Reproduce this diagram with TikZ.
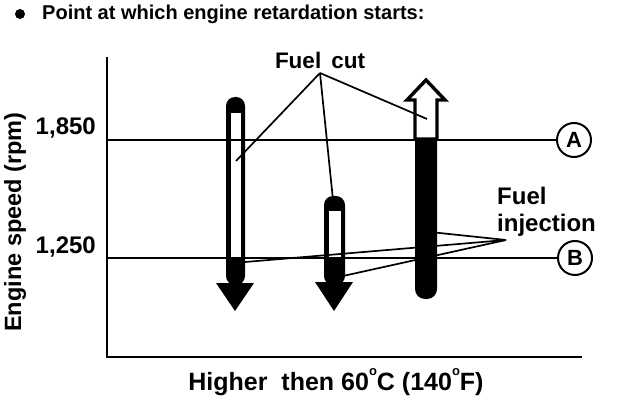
\documentclass[tikz,border=0pt]{standalone}
\usepackage{fontspec}
\setmainfont{Liberation Sans}
\usetikzlibrary{positioning,calc}

\newcommand{\degsup}{\raisebox{1.1ex}{\fontsize{13}{13}\selectfont o}}

\begin{document}
\begin{tikzpicture}[x=1pt,y=-1pt,
  txt/.style={font=\fontsize{#1}{#1}\selectfont\bfseries,inner sep=0pt},
  ax/.style={line width=2.4pt},
  lead/.style={line width=1.7pt},
  ring/.style={circle,draw,line width=2pt,minimum size=34pt,inner sep=0pt,font=\fontsize{22}{22}\selectfont\bfseries}]
\useasboundingbox (0,0) rectangle (624,414);
% title
\fill (20,14) circle (5);
\node[txt=20,anchor=west] (title) at (42,14) {Point at which engine retardation starts:};
% axes
\coordinate (top) at (107,57);
\coordinate (orig) at (107,357);
\coordinate (xend) at (582,357);
\draw[ax] (top) -- (orig) -- (xend);
\node[txt=23.5,rotate=90] (ylab) at (15,222) {Engine speed (rpm)};
\node[txt=25] (xlab) at (336,382) {Higher\ \ then 60\degsup C (140\degsup F)};
% levels
\node[ring] (A) at (574,140) {A};
\node[ring] (B) at (575,258) {B};
\node[txt=24,anchor=south east] (t1850) at (96,138) {1,850};
\node[txt=24,anchor=south east] (t1250) at (96,257) {1,250};
% left tube
\fill[rounded corners=9pt] (226,285) rectangle (245,97);
\fill[white] (230.5,113) rectangle (241,258);
\fill (216,283) -- (254,283) -- (235,311) -- cycle;
% middle tube
\fill[rounded corners=9pt] (324,285) rectangle (345,196);
\fill[white] (328.5,211) rectangle (341,258);
\fill (315,282) -- (353,282) -- (334,311) -- cycle;
% right tube
\fill[rounded corners=10pt] (415,130) rectangle (437,299);
\draw[line width=3.4pt,fill=white,line join=miter] (426,80) -- (445,100) -- (437,100)
  -- (437,139) -- (415,139) -- (415,100) -- (407,100) -- cycle;
% horizontal lines
\draw[ax] (orig |- A) -- (A);
\draw[ax] (orig |- B) -- (B);
% labels with leaders
\node[txt=22.5] (cut) at (320,60) {Fuel\,\ cut};
\coordinate (cutP) at (320,73);
\coordinate (c1) at (236,161);
\coordinate (c2) at (333,200);
\coordinate (c3) at (427,119);
\foreach \c in {c1,c2,c3}{\draw[lead] (cutP) -- (\c);}
\node[txt=24,anchor=north west,align=left] (inj) at (497,187) {Fuel\\[3pt]injection};
\coordinate (injP) at (506,240);
\coordinate (i1) at (245,262);
\coordinate (i2) at (343,276);
\coordinate (i3) at (430,232);
\foreach \c in {i1,i2,i3}{\draw[lead] (injP) -- (\c);}
\end{tikzpicture}
\end{document}
